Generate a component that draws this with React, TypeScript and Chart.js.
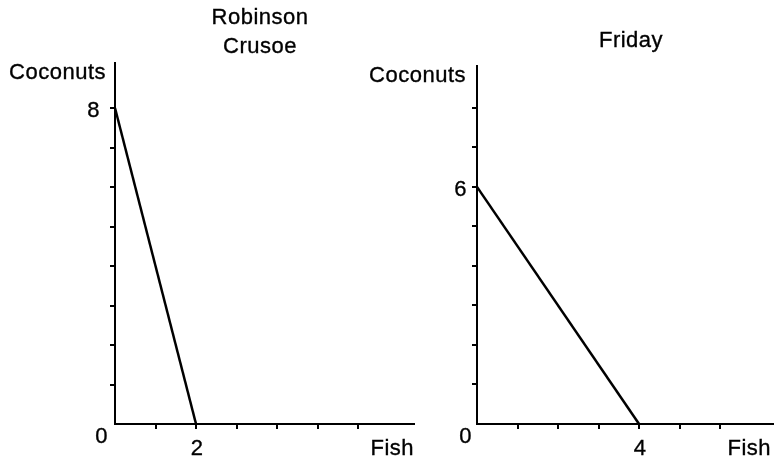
import { useEffect, useRef } from "react";
import { Chart, registerables } from "chart.js";

Chart.register(...registerables);

// ---- data ----
const robinsonFish = [0, 2];
const robinsonCoconuts = [8, 0];
const fridayFish = [0, 4];
const fridayCoconuts = [6, 0];

const xTickValues = [1, 2, 3, 4, 5, 6];
const yTickValues = [1, 2, 3, 4, 5, 6, 7, 8];

const robinsonTitle = ["Robinson", "Crusoe"];
const fridayTitle = ["Friday"];
const robinsonLabeledX = [2];
const robinsonLabeledY = [8];
const fridayLabeledX = [4];
const fridayLabeledY = [6];

const yAxisLabel = "Coconuts";
const xAxisLabel = "Fish";
const originLabel = "0";

type Panel = {
  fish: number[];
  coconuts: number[];
  title: string[];
  labeledX: number[];
  labeledY: number[];
  canvasLeft: number;
  canvasWidth: number;
  padding: { left: number; right: number; top: number; bottom: number };
  xMax: number;
  yMax: number;
  titleX: number;
  titleBaselines: number[];
  yTitleGap: number;
  yLabelGap: number;
  originGap: number;
  fishInset: number;
};

const panels: Panel[] = [
  {
    fish: robinsonFish,
    coconuts: robinsonCoconuts,
    title: robinsonTitle,
    labeledX: robinsonLabeledX,
    labeledY: robinsonLabeledY,
    canvasLeft: 0,
    canvasWidth: 420,
    padding: { left: 110, right: 6, top: 63, bottom: 30 },
    xMax: 7.38,
    yMax: 9.14,
    titleX: 260,
    titleBaselines: [24, 53],
    yTitleGap: 9,
    yLabelGap: 15,
    originGap: 7,
    fishInset: 0,
  },
  {
    fish: fridayFish,
    coconuts: fridayCoconuts,
    title: fridayTitle,
    labeledX: fridayLabeledX,
    labeledY: fridayLabeledY,
    canvasLeft: 360,
    canvasWidth: 414,
    padding: { left: 112, right: 0, top: 66, bottom: 30 },
    xMax: 7.33,
    yMax: 9.06,
    titleX: 271,
    titleBaselines: [47],
    yTitleGap: 11,
    yLabelGap: 10,
    originGap: 5,
    fishInset: 3,
  },
];

const FONT = '22px "Liberation Sans", Arial, sans-serif';

function PanelChart({ p }: { p: Panel }) {
  const ref = useRef<HTMLCanvasElement | null>(null);

  useEffect(() => {
    if (!ref.current) return;
    const textPlugin = {
      id: "panelText",
      afterDraw(chart: any) {
        const ctx = chart.ctx as CanvasRenderingContext2D;
        const { left, right, top, bottom } = chart.chartArea;
        const xs = chart.scales.x;
        const ys = chart.scales.y;
        ctx.save();
        ctx.font = FONT;
        (ctx as any).letterSpacing = "0.5px";
        ctx.fillStyle = "#000";
        ctx.strokeStyle = "#000";
        ctx.lineWidth = 0.35;
        ctx.textBaseline = "alphabetic";

        const put = (t: string, x: number, y: number) => {
          ctx.fillText(t, x, y);
          ctx.strokeText(t, x, y);
        };

        ctx.textAlign = "center";
        p.title.forEach((line, i) => put(line, p.titleX, p.titleBaselines[i]));

        ctx.textAlign = "right";
        put(yAxisLabel, left - p.yTitleGap, top + 16);

        p.labeledY.forEach((v) => {
          put(String(v), left - p.yLabelGap, ys.getPixelForValue(v) + 9);
        });

        put(originLabel, left - p.originGap, bottom + 19);
        put(xAxisLabel, right - p.fishInset, bottom + 31);

        ctx.textAlign = "center";
        p.labeledX.forEach((v) => {
          put(String(v), xs.getPixelForValue(v) + 1, bottom + 31);
        });
        ctx.restore();
      },
    };

    const chart = new Chart(ref.current, {
      type: "line",
      data: {
        datasets: [
          {
            data: p.fish.map((f, i) => ({ x: f, y: p.coconuts[i] })),
            borderColor: "#000",
            borderWidth: 2.5,
            pointRadius: 0,
            fill: false,
            tension: 0,
            clip: false as any,
          },
        ],
      },
      options: {
        animation: false,
        responsive: false,
        layout: { padding: p.padding },
        plugins: {
          legend: { display: false },
          tooltip: { enabled: false },
          title: { display: false },
        },
        scales: {
          x: {
            type: "linear",
            min: 0,
            max: p.xMax,
            afterBuildTicks: (scale: any) => {
              scale.ticks = xTickValues.map((v) => ({ value: v }));
            },
            ticks: { display: false },
            grid: {
              drawOnChartArea: false,
              drawTicks: true,
              tickLength: 5,
              color: "#000",
              lineWidth: 2,
            },
            border: { display: true, color: "#000", width: 2 },
          },
          y: {
            type: "linear",
            min: 0,
            max: p.yMax,
            afterBuildTicks: (scale: any) => {
              scale.ticks = yTickValues.map((v) => ({ value: v }));
            },
            ticks: { display: false },
            grid: {
              drawOnChartArea: false,
              drawTicks: true,
              tickLength: 5,
              color: "#000",
              lineWidth: 2,
            },
            border: { display: true, color: "#000", width: 2 },
          },
        },
      },
      plugins: [textPlugin],
    });
    return () => chart.destroy();
  }, [p]);

  return (
    <canvas
      ref={ref}
      width={p.canvasWidth}
      height={459}
      style={{
        position: "absolute",
        left: p.canvasLeft,
        top: 0,
        width: p.canvasWidth,
        height: 459,
      }}
    />
  );
}

export default function App() {
  return (
    <div
      style={{
        position: "fixed",
        left: 0,
        top: 0,
        width: 774,
        height: 459,
        background: "#fff",
        overflow: "hidden",
      }}
    >
      {panels.map((p, i) => (
        <PanelChart key={i} p={p} />
      ))}
    </div>
  );
}
